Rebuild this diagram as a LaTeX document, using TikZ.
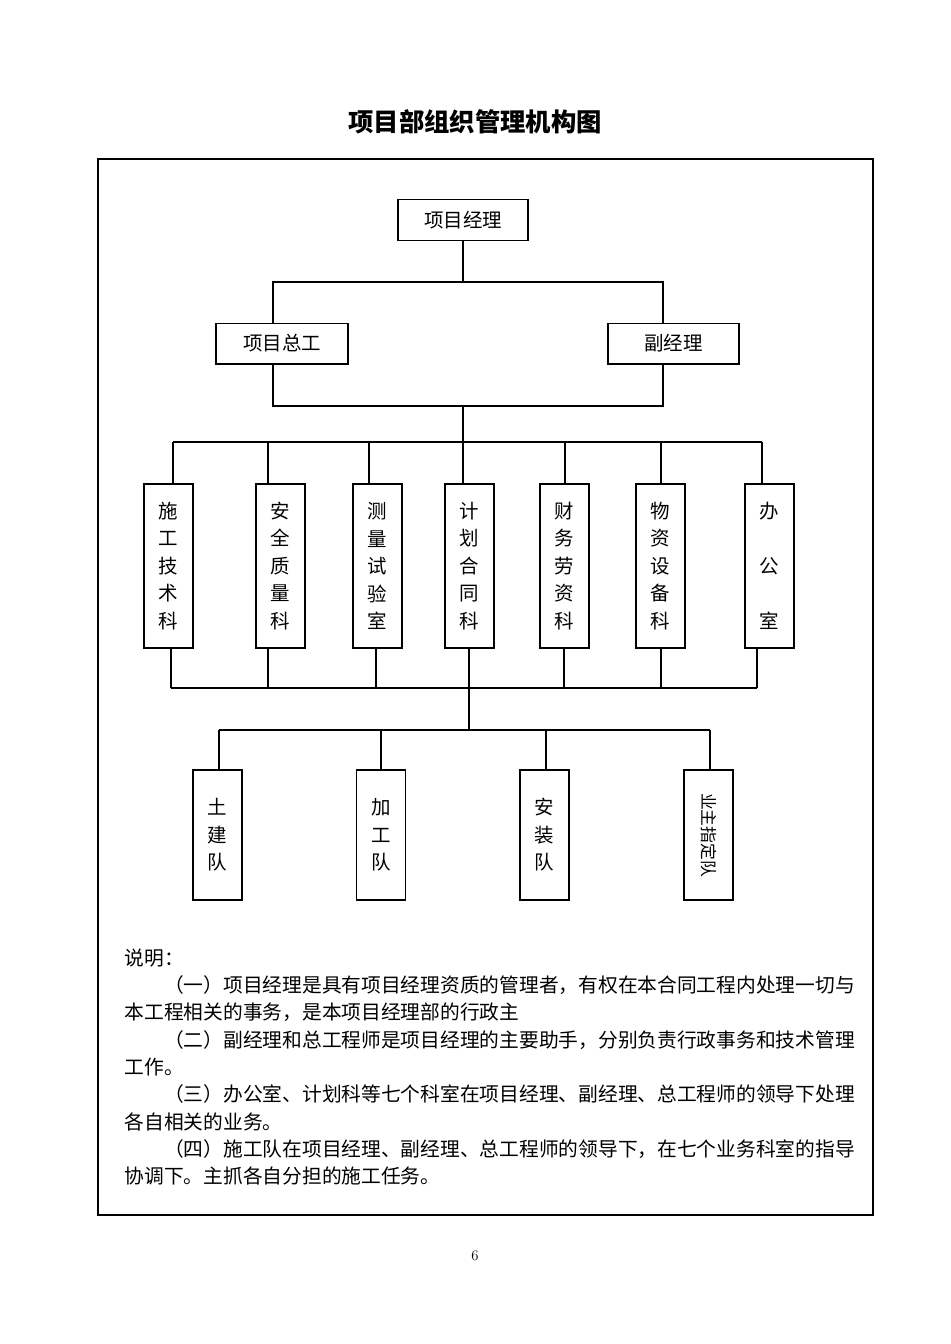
\documentclass[tikz,border=0pt]{standalone}
\usepackage{fontspec}
\newfontfamily\cjk{Noto Sans CJK SC}
\newcommand{\boxfont}{\cjk\fontsize{14.6pt}{20.6pt}\selectfont}
\begin{document}
\begin{tikzpicture}[x=0.75pt, y=-0.75pt, line width=1pt,
    every node/.style={inner sep=0pt},
    hbox/.style={draw, minimum height=30.5pt, font=\boxfont},
    dbox/.style={draw, minimum width=36.75pt, minimum height=123pt, align=center, font=\boxfont},
    tbox/.style={draw, minimum width=36.75pt, minimum height=97.5pt, align=center, font=\boxfont},
    note/.style={align=left, font=\cjk\fontsize{14.8pt}{20.5pt}\selectfont}]
    \useasboundingbox (0,0) rectangle (950,1344);
    \node[font=\cjk\bfseries\fontsize{19pt}{22pt}\selectfont] (title) at (475,122) {项目部组织管理机构图};
    \draw (98,159) rectangle (873,1215);
    % top level
    \node[hbox, minimum width=97.5pt] (pm) at (463,220) {项目经理};
    \node[hbox, minimum width=99pt] (zg) at (282,343.5) {项目总工};
    \node[hbox, minimum width=98.25pt] (fj) at (673.5,343.5) {副经理};
    \coordinate (zgU) at (273,282);
    \coordinate (fjU) at (663,282);
    \coordinate (zgD) at (273,406);
    \coordinate (fjD) at (663,406);
    \coordinate (mid) at (463,406);
    \coordinate (bar) at (463,442);
    \draw (pm.south) -- (pm.south |- zgU);
    \draw (zgU |- zg.north) -- (zgU) -- (fjU) -- (fjU |- fj.north);
    \draw (zgD |- zg.south) -- (zgD) -- (fjD) -- (fjD |- fj.south);
    \draw (mid) -- (bar);
    % departments
    \node[dbox] (d1) at (168.5,566) {施\\工\\技\\术\\科};
    \node[dbox] (d2) at (280.5,566) {安\\全\\质\\量\\科};
    \node[dbox] (d3) at (377.5,566) {测\\量\\试\\验\\室};
    \node[dbox] (d4) at (469.5,566) {计\\划\\合\\同\\科};
    \node[dbox] (d5) at (564.5,566) {财\\务\\劳\\资\\科};
    \node[dbox] (d6) at (660.5,566) {物\\资\\设\\备\\科};
    \node[dbox] (d7) at (769.5,566) {办\\[20.6pt]公\\[20.6pt]室};
    \coordinate (barL) at (173,442);
    \coordinate (barR) at (762,442);
    \draw (barL) -- (barR);
    \foreach \n/\x in {d1/173, d2/268, d3/369, d4/463, d5/565, d6/661, d7/762}
        \draw (\x,442) -- (\x,442 |- \n.north);
    \coordinate (lowL) at (171,688);
    \coordinate (lowR) at (757,688);
    \coordinate (low) at (469,688);
    \draw (lowL) -- (lowR);
    \foreach \n/\x in {d1/171, d2/268, d3/376, d4/469, d5/564, d6/661, d7/757}
        \draw (\x,688) -- (\x,688 |- \n.south);
    % teams
    \node[tbox] (t1) at (217.5,835) {土\\建\\队};
    \node[tbox] (t2) at (381,835) {加\\工\\队};
    \node[tbox] (t3) at (544.5,835) {安\\装\\队};
    \node[tbox] (t4) at (708.5,835) {};
    \node[rotate=-90, font=\cjk\fontsize{12.6pt}{14pt}\selectfont] (t4l) at (t4) {业主指定队};
    \coordinate (tbar) at (469,730);
    \coordinate (tbarL) at (219,730);
    \coordinate (tbarR) at (710,730);
    \draw (low) -- (tbar);
    \draw (tbarL) -- (tbarR);
    \foreach \n/\x in {t1/219, t2/381, t3/546, t4/710}
        \draw (\x,730) -- (\x,730 |- \n.north);
    % notes
    \node[note, anchor=north west] (note) at (124,948) {说明：\\
        \hspace*{2em}（一）项目经理是具有项目经理资质的管理者，有权在本合同工程内处理一切与\\
        本工程相关的事务，是本项目经理部的行政主\\
        \hspace*{2em}（二）副经理和总工程师是项目经理的主要助手，分别负责行政事务和技术管理\\
        工作。\\
        \hspace*{2em}（三）办公室、计划科等七个科室在项目经理、副经理、总工程师的领导下处理\\
        各自相关的业务。\\
        \hspace*{2em}（四）施工队在项目经理、副经理、总工程师的领导下，在七个业务科室的指导\\
        协调下。主抓各自分担的施工任务。};
    \node[font=\fontsize{11pt}{13pt}\selectfont] (page) at (475,1256) {6};
\end{tikzpicture}
\end{document}
